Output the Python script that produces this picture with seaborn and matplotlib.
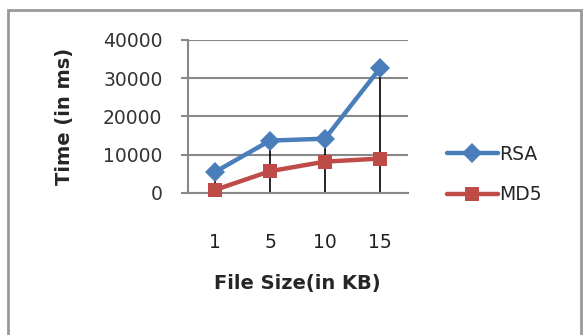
import matplotlib
matplotlib.use("Agg")
import matplotlib.pyplot as plt
import seaborn as sns
import pandas as pd
from matplotlib.patches import Rectangle
from matplotlib.lines import Line2D

categories = ["1", "5", "10", "15"]
rsa = [5500, 13700, 14200, 32600]
md5 = [800, 5700, 8200, 9000]
series_names = ["RSA", "MD5"]
y_ticks = [0, 10000, 20000, 30000, 40000]

sns.set_theme(style="white")
plt.rcParams['font.family'] = ['DejaVu Sans']

W, H = 583, 335
fig = plt.figure(figsize=(W / 100, H / 100), dpi=100)
fig.patch.set_facecolor("white")

ax = fig.add_axes([187.5 / W, 1 - 193 / H, 220 / W, 153 / H])

df = pd.DataFrame({
    "x": list(range(len(categories))) * 2,
    "value": rsa + md5,
    "series": [series_names[0]] * len(rsa) + [series_names[1]] * len(md5),
})

blue = "#4A7EBB"
red = "#BE4B48"

# drop lines
for i, v in enumerate(rsa):
    ax.vlines(i, 0, v, color="black", lw=1.2, zorder=2)

sns.lineplot(data=df, x="x", y="value", hue="series", style="series",
             markers={"RSA": "D", "MD5": "s"}, dashes=False,
             palette={"RSA": blue, "MD5": red}, lw=3.2, markersize=10,
             markeredgewidth=0, ax=ax, legend=False, zorder=3)
for ln in ax.lines:
    ln.set_clip_on(False)

ax.set_xlim(-0.5, len(categories) - 0.5)
ax.set_ylim(0, 40000)
ax.set_yticks(y_ticks)
ax.set_yticklabels([str(t) for t in y_ticks], fontsize=13.5, color="#333333")
ax.set_xticks(range(len(categories)))
ax.set_xticklabels(categories, fontsize=13.5, color="#222222")
ax.tick_params(axis="y", length=5, width=1.5, color="#888888", pad=13, left=True)
ax.tick_params(axis="x", length=0, pad=29)
ax.grid(axis="y", color="#888888", lw=1.5)
ax.set_axisbelow(True)
for s in ["top", "right"]:
    ax.spines[s].set_visible(False)
ax.spines["left"].set_color("#888888")
ax.spines["left"].set_linewidth(1.5)
ax.spines["bottom"].set_color("#888888")
ax.spines["bottom"].set_linewidth(1.5)
ax.set_xlabel("File Size(in KB)", fontsize=14, fontweight="bold", labelpad=16)
ax.set_ylabel("Time (in ms)", fontsize=14, fontweight="bold", labelpad=21)

handles = [Line2D([], [], color=blue, lw=3.2, marker="D", markersize=10, markeredgewidth=0),
           Line2D([], [], color=red, lw=3.2, marker="s", markersize=10, markeredgewidth=0)]
fig.legend(handles, series_names, loc="upper left",
           bbox_to_anchor=(430 / W, 1 - 128 / H), frameon=False,
           fontsize=13.5, handlelength=2.7, handletextpad=0.1, labelspacing=1.15)

fig.patches.append(Rectangle((8 / W, -0.05), (581 - 8) / W, 1.05 - 10 / H,
                             transform=fig.transFigure, fill=False,
                             edgecolor="#999999", lw=2))

fig.savefig("out.png", dpi=100)
